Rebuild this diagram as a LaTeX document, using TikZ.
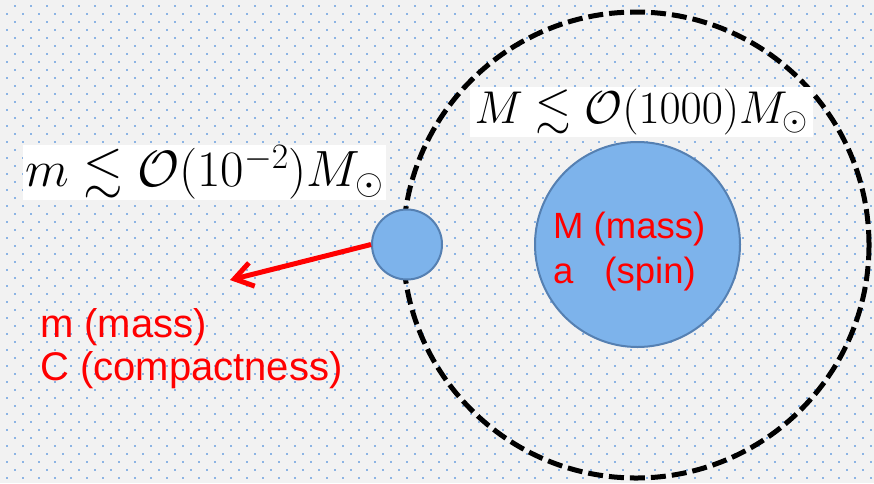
\RequirePackage{fix-cm}
\documentclass[tikz,border=0pt]{standalone}
\usepackage{amsmath,amssymb}
\usepackage{fontspec}
\newfontfamily\arialfont{Liberation Sans}
\usetikzlibrary{arrows.meta}

\definecolor{slidegray}{RGB}{242,242,242}
\definecolor{dotblue}{RGB}{140,180,228}
\definecolor{bodyblue}{RGB}{125,179,235}
\definecolor{bodyedge}{RGB}{85,128,178}

\begin{document}
\begin{tikzpicture}[x=1pt, y=-1pt,
  body/.style={circle, fill=bodyblue, draw=bodyedge, line width=2pt, inner sep=0pt},
  redlabel/.style={text=red, anchor=base west, inner sep=0pt},
  boundbox/.style={fill=white, inner sep=0pt}]
  \useasboundingbox (0,0) rectangle (874,483);

  % slide background with dot grid
  \fill[slidegray] (0,0) rectangle (874,483);
  \foreach \i in {0,...,54}
    \foreach \j in {0,...,30} {
      \fill[dotblue] (6+16*\i,13+16*\j) rectangle ++(1.8,1.8);
      \fill[dotblue] (14+16*\i,5+16*\j) rectangle ++(1.8,1.8);
    }

  % orbit
  \draw[line width=5pt, dash pattern=on 15pt off 6pt] (636,245) circle (233pt);

  % bodies
  \node[body, minimum size=205pt] (bh) at (637.5,244.5) {};
  \node[body, minimum size=70pt] (star) at (407,244.5) {};

  % arrow
  \coordinate (tip) at (230,280);
  \draw[red, line width=5pt, -{Straight Barb[length=18pt, width=24pt]}] (star.west) -- (tip);

  % labels
  \node[redlabel, font=\arialfont\fontsize{36.5}{44}\selectfont] (bhmass) at (553,238) {M (mass)};
  \node[redlabel, font=\arialfont\fontsize{36.5}{44}\selectfont] (bhspin) at (553,283) {a\hspace{31pt}(spin)};
  \node[redlabel, font=\arialfont\fontsize{40}{46}\selectfont] (starmass) at (40,337) {m (mass)};
  \node[redlabel, font=\arialfont\fontsize{40}{46}\selectfont] (starcomp) at (40,380) {C (compactness)};

  % mass bounds
  \node[boundbox, font=\fontsize{51}{56}\selectfont, minimum width=363pt, minimum height=55pt] (starbound) at (204.5,172.5) {$m \lesssim \mathcal{O}(10^{-2}) M_\odot$};
  \node[boundbox, font=\fontsize{46}{52}\selectfont, minimum width=343pt, minimum height=50pt] (bhbound) at (641.5,112) {$M \lesssim \mathcal{O}(1000) M_\odot$};
\end{tikzpicture}
\end{document}
